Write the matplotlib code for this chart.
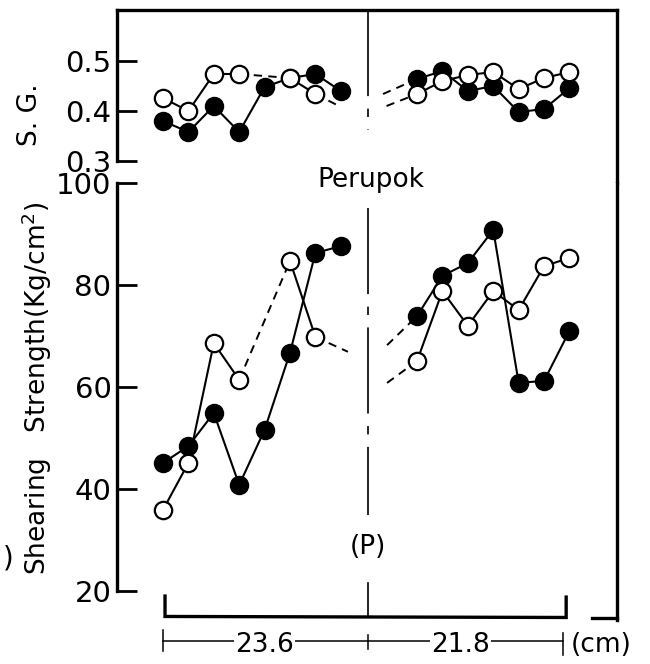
import matplotlib
matplotlib.use('Agg')
import matplotlib.pyplot as plt
import numpy as np

plt.rcParams['font.family'] = ['DejaVu Sans']
plt.rcParams['lines.scale_dashes'] = False

# sample positions (left piece / right piece of the stem)
x_left = [0, 1, 2, 3, 4, 5, 6, 7]
x_right = [10, 11, 12, 13, 14, 15, 16]
split_x = 8.07

# specific gravity
sg_fill_left = [0.380, 0.358, 0.410, 0.358, 0.448, 0.466, 0.474, 0.440]
sg_open_left = [0.426, 0.400, 0.474, 0.474, np.nan, 0.466, 0.434, np.nan]
sg_fill_right = [0.464, 0.480, 0.440, 0.450, 0.398, 0.404, 0.446]
sg_open_right = [0.434, 0.460, 0.472, 0.478, 0.444, 0.466, 0.478]
sg_open_tail = [6.85, 0.412]
sg_fill_lead = [8.66, 0.434]
sg_open_lead = [8.80, 0.410]

# shearing strength (Kg/cm2)
ss_fill_left = [45.1, 48.4, 54.9, 40.8, 51.6, 66.7, 86.3, 87.6]
ss_open_left = [35.9, 45.1, 68.6, 61.4, np.nan, 84.7, 69.8, np.nan]
ss_fill_right = [73.9, 81.8, 84.3, 90.8, 60.8, 61.2, 71.0]
ss_open_right = [65.1, 78.8, 72.0, 78.8, 75.1, 83.7, 85.3]
ss_open_tail = [7.28, 66.9]
ss_fill_lead = [8.82, 68.2]
ss_open_lead = [8.82, 60.8]

sg_ticks = [0.3, 0.4, 0.5]
ss_ticks = [20, 40, 60, 80, 100]

fig = plt.figure(figsize=(6.5, 6.64), dpi=100)
ax1 = fig.add_axes([0.18, 0.7244, 0.7692, 0.2605])
ax2 = fig.add_axes([0.18, 0.0663, 0.7692, 0.6581])

SPW = 2.4
fill_kw = dict(marker='o', ms=12.5, mfc='black', mec='black', mew=1.5, zorder=3)
open_kw = dict(marker='o', ms=12.5, mfc='white', mec='black', mew=1.6, zorder=4)
dash_kw = dict(color='black', lw=1.4, dashes=(6, 4.5), zorder=2)


def draw_series(ax, xs, ys, kw):
    xs = np.array(xs, float)
    ys = np.array(ys, float)
    ok = ~np.isnan(ys)
    # solid only between neighbours that both exist
    for i in range(len(xs) - 1):
        if ok[i] and ok[i + 1]:
            ax.plot(xs[i:i + 2], ys[i:i + 2], color='black', lw=1.5, zorder=2)
    ax.plot(xs[ok], ys[ok], ls='none', **kw)


def gap_dash(ax, xs, ys):
    # dashed bridge over a missing open-circle sample
    xs = np.array(xs, float)
    ys = np.array(ys, float)
    for i in range(len(xs) - 2):
        if not np.isnan(ys[i]) and np.isnan(ys[i + 1]) and not np.isnan(ys[i + 2]):
            ax.plot([xs[i], xs[i + 2]], [ys[i], ys[i + 2]], **dash_kw)


def last_valid(xs, ys):
    ys = np.array(ys, float)
    idx = np.where(~np.isnan(ys))[0][-1]
    return xs[idx], ys[idx]


for ax, fl, ol, fr, orr, otail, flead, olead in [
        (ax1, sg_fill_left, sg_open_left, sg_fill_right, sg_open_right, sg_open_tail, sg_fill_lead, sg_open_lead),
        (ax2, ss_fill_left, ss_open_left, ss_fill_right, ss_open_right, ss_open_tail, ss_fill_lead, ss_open_lead)]:
    draw_series(ax, x_left, fl, fill_kw)
    draw_series(ax, x_left, ol, open_kw)
    draw_series(ax, x_right, fr, fill_kw)
    draw_series(ax, x_right, orr, open_kw)
    gap_dash(ax, x_left, ol)
    lx, ly = last_valid(x_left, ol)
    ax.plot([lx, otail[0]], [ly, otail[1]], **dash_kw)
    ax.plot([flead[0], x_right[0]], [flead[1], fr[0]], **dash_kw)
    ax.plot([olead[0], x_right[0]], [olead[1], orr[0]], **dash_kw)

xlim = (-1.81, 17.87)
ax1.set_xlim(*xlim)
ax2.set_xlim(*xlim)
ax1.set_ylim(0.256, 0.602)
ax2.set_ylim(14.31, 100)

for ax in (ax1, ax2):
    ax.set_xticks([])
    ax.tick_params(axis='y', direction='in', length=14.5, width=2.0, pad=4, labelsize=21)
    for s in ax.spines.values():
        s.set_linewidth(SPW)

ax1.spines['bottom'].set_visible(False)
ax1.spines['left'].set_bounds(0.3, 0.602)
ax1.set_yticks(sg_ticks)
ax1.set_yticklabels(['0.3', '0.4', '0.5'])

ax2.spines['top'].set_visible(False)
ax2.spines['bottom'].set_visible(False)
ax2.spines['left'].set_bounds(20, 100)
ax2.set_yticks(ss_ticks)
ax2.set_yticklabels([str(t) for t in ss_ticks])

# centre dash-dot line (junction)
dd = (0, (62, 9, 6, 9))
ax1.plot([split_x, split_x], [0.602, 0.362], color='black', lw=1.2, ls=dd, zorder=1)
ax2.plot([split_x, split_x], [95.1, 34.9], color='black', lw=1.2, ls=dd, zorder=1)

# bracket below the plot
ax2.plot([0.08, 0.08, 15.87, 15.87], [19.0, 15.0, 14.8, 18.8], color='black', lw=2.4,
         clip_on=False, solid_joinstyle='miter')
ax2.plot([split_x, split_x], [21.6, 14.9], color='black', lw=1.2, clip_on=False)
ax2.plot([16.9, 17.87], [14.6, 14.6], color='black', lw=2.4, clip_on=False)

# dimension line
dim_y = 10.2
ax2.plot([0, 15.75], [dim_y, dim_y], color='black', lw=1.1, clip_on=False)
for tx, (y0, y1) in [(0, (12.4, 8.2)), (split_x, (11.4, 8.6)), (15.75, (11.7, 7.4))]:
    ax2.plot([tx, tx], [y0, y1], color='black', lw=1.1, clip_on=False)
ax2.text(4.0, 9.5, '23.6', fontsize=19, ha='center', va='center',
         bbox=dict(facecolor='white', edgecolor='none', pad=1))
ax2.text(11.7, 9.5, '21.8', fontsize=19, ha='center', va='center',
         bbox=dict(facecolor='white', edgecolor='none', pad=1))
ax2.text(16.05, 9.5, '(cm)', fontsize=19, ha='left', va='center')

# labels
fig.text(30 / 650, 1 - 115 / 664, 'S. G.', rotation=90, fontsize=19, ha='center', va='center')
fig.text(37 / 650, 1 - 388 / 664, 'Shearing   Strength(Kg/cm$^2$)', rotation=90, fontsize=19,
         ha='center', va='center')
fig.text(371 / 650, 1 - 180 / 664, 'Perupok', fontsize=19, ha='center', va='center')
fig.text(368 / 650, 1 - 547 / 664, '(P)', fontsize=19, ha='center', va='center')
fig.text(14 / 650, 1 - 558 / 664, ')', fontsize=20, ha='right', va='center')

fig.savefig('out.png', dpi=100)
